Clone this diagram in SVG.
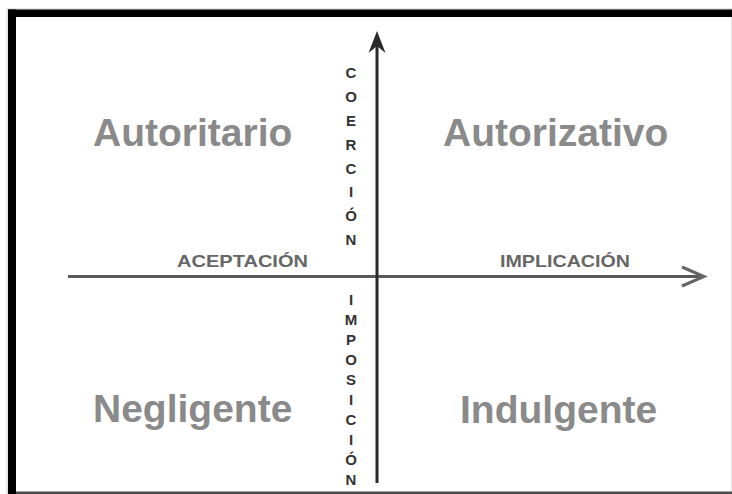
<svg xmlns="http://www.w3.org/2000/svg" width="732" height="494" viewBox="0 0 732 494">
<style>
.q{font-family:"Liberation Sans",Arial,sans-serif;font-weight:bold;font-size:39px;fill:#8a8a8a}
.ax{font-family:"Liberation Sans",Arial,sans-serif;font-weight:bold;font-size:17px;fill:#666}
.v{font-family:"Liberation Sans",Arial,sans-serif;font-weight:bold;font-size:15px;fill:#333;text-anchor:middle}
</style>
<rect width="732" height="494" fill="#fff"/>
<g id="frame">
<rect x="7" y="9" width="725" height="485" fill="none" stroke="#ccc" stroke-width="1"/>
<rect x="8" y="9.5" width="8" height="484.5" fill="#000"/>
<rect x="8" y="9.5" width="724" height="7.5" fill="#000"/>
<rect x="16" y="491.5" width="716" height="2.5" fill="#4a4a4a"/>
</g>
<g id="connectors">
<line x1="68" y1="276.5" x2="702" y2="276.5" stroke="#5a5a5a" stroke-width="3"/>
<polyline points="682,267 704,276.5 682,286" fill="none" stroke="#666" stroke-width="3"/>
<line x1="377" y1="40" x2="377" y2="483" stroke="#2a2a2a" stroke-width="3"/>
<path d="M377,31 L385.5,53 L377,46 L368.5,53 Z" fill="#2a2a2a"/>
</g>
<g id="autoritario"><text class="q" x="93" y="146">Autoritario</text></g>
<g id="autorizativo"><text class="q" x="443" y="146">Autorizativo</text></g>
<g id="negligente"><text class="q" x="93" y="422">Negligente</text></g>
<g id="indulgente"><text class="q" x="460" y="423">Indulgente</text></g>
<g id="aceptacion"><text class="ax" x="177" y="267" textLength="131" lengthAdjust="spacingAndGlyphs">ACEPTACIÓN</text></g>
<g id="implicacion"><text class="ax" x="500" y="267" textLength="130" lengthAdjust="spacingAndGlyphs">IMPLICACIÓN</text></g>
<g id="coercion">
<text class="v" x="351" y="78">C</text>
<text class="v" x="351" y="102">O</text>
<text class="v" x="351" y="126">E</text>
<text class="v" x="351" y="150">R</text>
<text class="v" x="351" y="174">C</text>
<text class="v" x="351" y="197">I</text>
<text class="v" x="351" y="221">Ó</text>
<text class="v" x="351" y="245">N</text>
</g>
<g id="imposicion">
<text class="v" x="351" y="305">I</text>
<text class="v" x="351" y="325">M</text>
<text class="v" x="351" y="345">P</text>
<text class="v" x="351" y="365">O</text>
<text class="v" x="351" y="385">S</text>
<text class="v" x="351" y="405">I</text>
<text class="v" x="351" y="425">C</text>
<text class="v" x="351" y="445">I</text>
<text class="v" x="351" y="465">Ó</text>
<text class="v" x="351" y="485">N</text>
</g>
</svg>
